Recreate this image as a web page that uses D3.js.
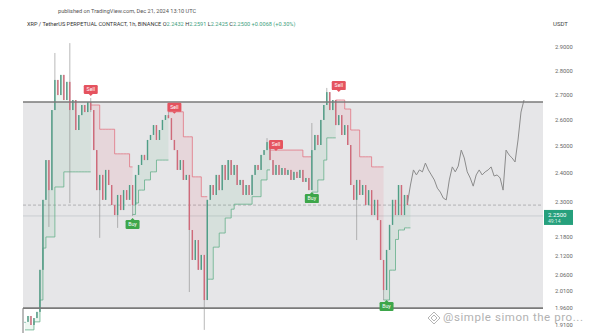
<!DOCTYPE html>
<html>
<head>
  <meta charset="utf-8">
  <script src="https://d3js.org/d3.v7.min.js"></script>
  <style>
    body { margin: 0; background: #fff; font-family: 'Roboto', sans-serif; }
    svg { display: block; }
    .tick line, .domain { display: none; }
  </style>
</head>
<body>
<div id="chart"></div>
<script type="text/javascript">
  "use strict";

  /* hourly closes (index = hour) */
  var closes = [
    1.919, 1.936, 1.910, 1.930, 1.948, 2.075, 2.305, 2.447, 2.339, 2.638,
    2.760, 2.698, 2.781, 2.678, 2.752, 2.638, 2.678, 2.560, 2.618, 2.658,
    2.630, 2.670, 2.638, 2.484, 2.339, 2.393, 2.305, 2.411, 2.357, 2.287,
    2.253, 2.322, 2.270, 2.339, 2.305, 2.357, 2.287, 2.393, 2.429, 2.466,
    2.447, 2.522, 2.541, 2.579, 2.522, 2.560, 2.599, 2.618, 2.606, 2.522,
    2.484, 2.411, 2.447, 2.375, 2.393, 2.203, 2.106, 2.170, 2.075, 2.122,
    1.983, 2.305, 2.357, 2.322, 2.393, 2.339, 2.429, 2.375, 2.447, 2.393,
    2.429, 2.357, 2.375, 2.322, 2.357, 2.322, 2.393, 2.429, 2.411, 2.466,
    2.484, 2.514, 2.447, 2.393, 2.429, 2.393, 2.418, 2.393, 2.411, 2.375,
    2.404, 2.382, 2.411, 2.368, 2.382, 2.339, 2.484, 2.541, 2.503, 2.599,
    2.658, 2.710, 2.638, 2.678, 2.579, 2.618, 2.541, 2.579, 2.503, 2.357,
    2.305, 2.375, 2.322, 2.357, 2.287, 2.339, 2.253, 2.305, 2.236, 2.106,
    2.013, 2.138, 2.220, 2.305, 2.253, 2.357, 2.253, 2.322, 2.287
  ];

  /* grey projected path, starting at hour 128 */
  var forecastStart = 128;
  var forecast = [
    2.294, 2.357, 2.411, 2.393, 2.411, 2.404, 2.436, 2.411, 2.393, 2.375,
    2.346, 2.332, 2.311, 2.305, 2.375, 2.422, 2.404, 2.425, 2.484, 2.455,
    2.404, 2.382, 2.353, 2.393, 2.411, 2.393, 2.404, 2.411, 2.422, 2.389,
    2.393, 2.382, 2.339, 2.484, 2.466, 2.455, 2.440, 2.522, 2.630, 2.678
  ];

  // long wicks: [hour, high, low]
  var spikes = [
    [8, 2.447, 2.213], [10, 2.874, 2.638], [15, 2.917, 2.294], [22, 2.686, 2.630],
    [25, 2.393, 2.177], [31, 2.322, 2.210], [36, 2.305, 2.250], [48, 2.631, 2.606],
    [55, 2.393, 2.007], [60, 2.122, 1.896], [81, 2.529, 2.484], [96, 2.587, 2.339],
    [101, 2.727, 2.658], [111, 2.375, 2.170], [120, 2.106, 1.983]
  ];

  // supertrend level from that hour on: [hour, level, direction]
  var superTrend = [
    [0, 1.896, 1], [3, 1.919, 1], [5, 1.983, 1], [6, 2.144, 1], [7, 2.180, 1],
    [10, 2.350, 1], [13, 2.404, 1],
    [22, 2.658, -1], [25, 2.563, -1], [30, 2.470, -1], [35, 2.422, -1],
    [36, 2.255, 1], [37, 2.294, 1], [38, 2.339, 1], [40, 2.375, 1], [42, 2.404, 1], [44, 2.447, 1],
    [48, 2.631, -1], [53, 2.534, -1], [56, 2.386, -1], [59, 2.316, -1],
    [61, 2.046, 1], [63, 2.147, 1], [65, 2.193, 1], [67, 2.243, 1], [69, 2.273, 1],
    [70, 2.290, 1], [76, 2.316, 1], [79, 2.375, 1], [81, 2.411, 1],
    [82, 2.484, -1], [93, 2.459, -1],
    [96, 2.332, 1], [98, 2.375, 1], [100, 2.447, 1], [101, 2.530, 1],
    [104, 2.678, -1], [107, 2.642, -1], [109, 2.560, -1], [112, 2.459, -1], [116, 2.422, -1],
    [120, 1.983, 1], [122, 2.074, 1], [124, 2.172, 1], [125, 2.203, 1], [127, 2.210, 1]
  ];

  // buy / sell flags: [hour, type, price at the tip]
  var signals = [
    [22, "Sell", 2.686], [50, "Sell", 2.615], [84, "Sell", 2.473], [105, "Sell", 2.702],
    [36, "Buy", 2.250], [96, "Buy", 2.339], [121, "Buy", 1.989]
  ];

  var yTicks = [2.9, 2.8, 2.7, 2.6, 2.5, 2.4, 2.3, 2.18, 2.12, 2.06, 2.01, 1.96, 1.91];
  var boxTop = 2.670, boxBottom = 1.959;
  var dashedLevel = 2.287, lastPrice = 2.25;

  var width = 594, height = 333;
  var plotLeft = 23, plotRight = 543;

  var svg = d3.select("#chart").append("svg")
      .attr("width", width)
      .attr("height", height);

  var x = d3.scaleLinear().domain([0, 167]).range([25, 524]);
  var y = d3.scaleLog().domain([1.91, 2.9]).range([325, 47]);

  /* header texts */
  svg.append("text")
      .attr("x", 58).attr("y", 13)
      .attr("font-size", "5.6px").attr("fill", "#555")
      .text("published on TradingView.com, Dec 21, 2024 13:10 UTC");

  var hdr = svg.append("text")
      .attr("x", 27).attr("y", 26)
      .attr("font-size", "5.6px").attr("fill", "#333");
  hdr.append("tspan").text("XRP / TetherUS PERPETUAL CONTRACT, 1h, BINANCE  ");
  [["O", "2.2432"], ["H", "2.2591"], ["L", "2.2425"], ["C", "2.2500"]].forEach(function (p) {
    hdr.append("tspan").attr("fill", "#333").text(p[0]);
    hdr.append("tspan").attr("fill", "#3f9f80").text(p[1] + "  ");
  });
  hdr.append("tspan").attr("fill", "#3f9f80").text("+0.0068 (+0.30%)");

  svg.append("text")
      .attr("x", 553).attr("y", 26)
      .attr("font-size", "6px").attr("fill", "#444")
      .text("USDT");

  /* range box */
  svg.append("rect")
      .attr("x", plotLeft).attr("y", y(boxTop))
      .attr("width", plotRight - plotLeft).attr("height", y(boxBottom) - y(boxTop))
      .attr("fill", "#e6e6e8");
  svg.append("line")
      .attr("x1", plotLeft).attr("x2", plotLeft)
      .attr("y1", y(boxBottom)).attr("y2", height)
      .attr("stroke", "#777").attr("stroke-width", 1);

  svg.append("line")
      .attr("x1", plotLeft).attr("x2", plotRight)
      .attr("y1", y(dashedLevel)).attr("y2", y(dashedLevel))
      .attr("stroke", "#a4a4a8").attr("stroke-width", 0.8)
      .attr("stroke-dasharray", "3,2");
  svg.append("line")
      .attr("x1", plotLeft).attr("x2", plotRight)
      .attr("y1", y(lastPrice)).attr("y2", y(lastPrice))
      .attr("stroke", "#c9cdd1").attr("stroke-width", 1);

  /* supertrend: per-hour level, split by direction */
  var levels = [];
  closes.forEach(function (c, i) {
    var row = superTrend.filter(function (r) { return r[0] <= i; }).pop();
    levels.push({ i: i, close: c, level: row[1], dir: row[2] });
  });
  var segments = [];
  levels.forEach(function (d, i) {
    if (i === 0 || d.dir !== levels[i - 1].dir) segments.push([]);
    segments[segments.length - 1].push(d);
  });

  var stArea = d3.area()
      .x(function (d) { return x(d.i); })
      .y0(function (d) { return y(d.close); })
      .y1(function (d) { return y(d.level); })
      .curve(d3.curveStepAfter);
  var stLine = d3.line()
      .x(function (d) { return x(d.i); })
      .y(function (d) { return y(d.level); })
      .curve(d3.curveStepAfter);

  segments.forEach(function (seg) {
    var up = seg[0].dir === 1;
    var last = seg[seg.length - 1];
    var pts = seg.concat([{ i: last.i + 1, close: last.close, level: last.level, dir: last.dir }]);
    svg.append("path")
        .attr("d", stArea(pts))
        .attr("fill", up ? "rgba(76,175,120,0.10)" : "rgba(236,80,100,0.10)");
    svg.append("path")
        .attr("d", stLine(pts))
        .attr("fill", "none")
        .attr("stroke", up ? "#64b08a" : "#e27583")
        .attr("stroke-width", 0.8);
  });

  /* candles */
  var spikeMap = {};
  spikes.forEach(function (s) { spikeMap[s[0]] = s; });

  closes.forEach(function (c, i) {
    var o = i === 0 ? c : closes[i - 1];
    var hi = Math.max(o, c), lo = Math.min(o, c);
    if (spikeMap[i]) { hi = Math.max(hi, spikeMap[i][1]); lo = Math.min(lo, spikeMap[i][2]); }
    var col = c >= o ? "#4f9e86" : "#d06a7a";
    svg.append("line")
        .attr("x1", x(i)).attr("x2", x(i))
        .attr("y1", y(hi)).attr("y2", y(lo))
        .attr("stroke", "#8a8a8a").attr("stroke-width", 0.6);
    svg.append("rect")
        .attr("x", x(i) - 0.7).attr("width", 1.4)
        .attr("y", y(Math.max(o, c)))
        .attr("height", Math.max(0.8, Math.abs(y(o) - y(c))))
        .attr("fill", col);
  });

  /* grey projection */
  svg.append("path")
      .datum(forecast)
      .attr("d", d3.line()
        .x(function (d, i) { return x(forecastStart + i); })
        .y(function (d) { return y(d); }))
      .attr("fill", "none")
      .attr("stroke", "#8c8c8c")
      .attr("stroke-width", 1);

  /* top and bottom range lines */
  [boxTop, boxBottom].forEach(function (v) {
    svg.append("line")
        .attr("x1", plotLeft).attr("x2", plotRight)
        .attr("y1", y(v)).attr("y2", y(v))
        .attr("stroke", "#7a7a7a").attr("stroke-width", 1.6);
  });

  /* buy / sell flags */
  signals.forEach(function (s) {
    var sell = s[1] === "Sell";
    var cx = x(s[0]), tip = y(s[2]);
    var col = sell ? "#e5535f" : "#3da64a";
    var top = sell ? tip - 13 : tip + 4;
    var g = svg.append("g");
    g.append("rect")
        .attr("x", cx - 7).attr("y", top)
        .attr("width", 14).attr("height", 9).attr("rx", 1.2)
        .attr("fill", col);
    g.append("path")
        .attr("d", sell
          ? "M" + (cx - 2) + "," + (top + 9) + "L" + cx + "," + (top + 11) + "L" + (cx + 2) + "," + (top + 9) + "Z"
          : "M" + (cx - 2) + "," + top + "L" + cx + "," + (top - 2) + "L" + (cx + 2) + "," + top + "Z")
        .attr("fill", col);
    g.append("text")
        .attr("x", cx).attr("y", top + 6.3)
        .attr("text-anchor", "middle")
        .attr("font-size", "5.2px").attr("fill", "#fff")
        .text(s[1]);
  });

  /* right price axis */
  var axis = svg.append("g")
      .attr("transform", "translate(552,0)")
      .call(d3.axisRight(y).tickValues(yTicks).tickSize(0).tickFormat(d3.format(".4f")));
  axis.selectAll("text")
      .attr("font-size", "5.8px").attr("fill", "#666")
      .attr("font-family", "Roboto, sans-serif");

  // last price tag
  svg.append("rect")
      .attr("x", 544).attr("y", y(lastPrice) - 6)
      .attr("width", 29).attr("height", 15)
      .attr("fill", "#26a07c");
  svg.append("text")
      .attr("x", 548).attr("y", y(lastPrice) + 1.5)
      .attr("font-size", "6px").attr("fill", "#fff")
      .text("2.2500");
  svg.append("text")
      .attr("x", 548).attr("y", y(lastPrice) + 7.5)
      .attr("font-size", "5px").attr("fill", "#d8f0e6")
      .text("49:14");

  /* watermark */
  var wm = svg.append("g").attr("fill", "none").attr("stroke", "#b5b5b5").attr("stroke-width", 1);
  wm.append("path").attr("d", "M434,312 L440,318 L434,324 L428,318 Z");
  wm.append("path").attr("d", "M434,315 L437,318 L434,321 L431,318 Z");
  svg.append("text")
      .attr("x", 443).attr("y", 321)
      .attr("font-size", "11.5px").attr("fill", "#b2b2b2")
      .attr("textLength", 140)
      .text("@simple simon the pro...");
</script>
</body>
</html>
